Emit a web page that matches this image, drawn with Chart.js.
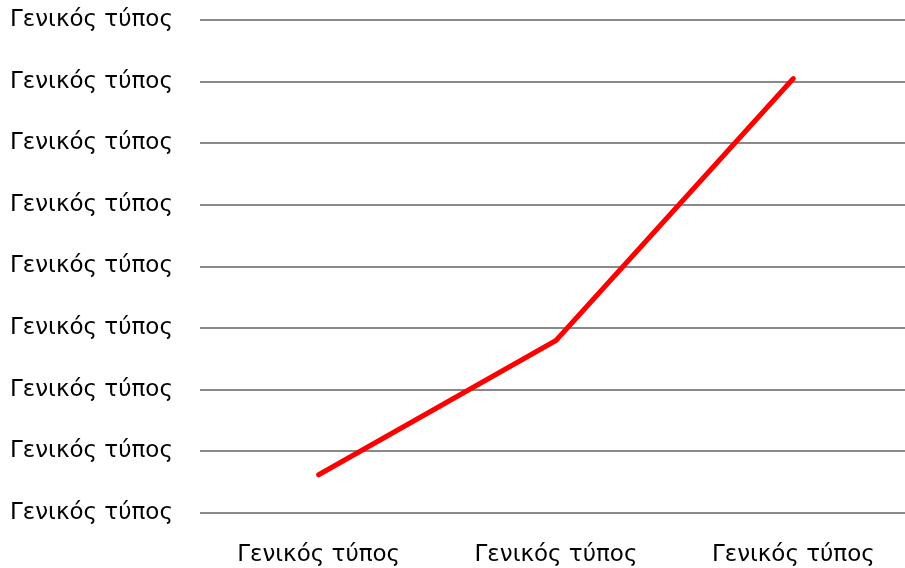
<!DOCTYPE html>
<html>
<head>
<meta charset="utf-8">
<script src="https://cdn.jsdelivr.net/npm/chart.js@4"></script>
<style>
    html, body { margin: 0; padding: 0; background: #fff; overflow: hidden; }
    #wrap { width: 912px; height: 568px; }
</style>
</head>
<body>
<div id="wrap"><canvas id="chart"></canvas></div>
<script>
const categories = ['Γενικός τύπος', 'Γενικός τύπος', 'Γενικός τύπος'];
const seriesValues = [0.62, 2.8, 7.05];
const yTickLabel = 'Γενικός τύπος';

const labelFont = { family: 'DejaVu Sans', size: 23 };

new Chart(document.getElementById('chart'), {
    type: 'line',
    data: {
        labels: categories,
        datasets: [{
            data: seriesValues,
            borderColor: '#ff0000',
            borderWidth: 5,
            borderCapStyle: 'round',
            borderJoinStyle: 'miter',
            pointRadius: 0,
            tension: 0
        }]
    },
    options: {
        responsive: true,
        maintainAspectRatio: false,
        animation: false,
        layout: { padding: { top: 20, left: 10, right: 0, bottom: 0 } },
        plugins: { legend: { display: false }, tooltip: { enabled: false } },
        scales: {
            x: {
                offset: true,
                grid: { display: false },
                border: { display: false },
                ticks: { color: '#000', font: labelFont, padding: 20, maxRotation: 0 },
                afterFit: function (axis) { axis.height = 55; }
            },
            y: {
                min: 0,
                max: 8,
                grid: { color: '#898989', lineWidth: 2, drawTicks: false },
                border: { display: false },
                ticks: {
                    stepSize: 1,
                    color: '#000',
                    font: labelFont,
                    crossAlign: 'far',
                    padding: 0,
                    callback: function () { return yTickLabel; }
                },
                afterFit: function (axis) {
                    axis.width = 190;
                    axis.paddingTop = 0;
                    axis.paddingBottom = 0;
                }
            }
        }
    }
});
</script>
</body>
</html>
